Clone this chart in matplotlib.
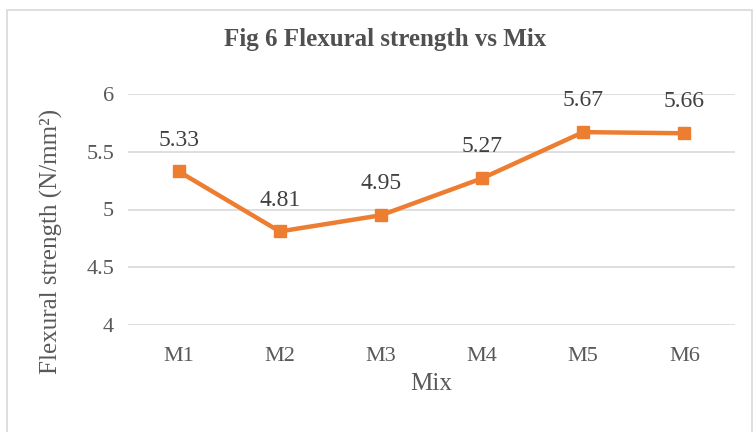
import matplotlib.pyplot as plt
from matplotlib.patches import Rectangle

mixes = ["M1", "M2", "M3", "M4", "M5", "M6"]
strength = [5.33, 4.81, 4.95, 5.27, 5.67, 5.66]
y_ticks = [4, 4.5, 5, 5.5, 6]
y_tick_labels = ["4", "4.5", "5", "5.5", "6"]

plt.rcParams['font.family'] = ['Liberation Serif', 'DejaVu Serif']
text_color = '#595959'
orange = '#ED7D31'

fig = plt.figure(figsize=(7.56, 4.32), dpi=100)

# outer chart frame
fig.patches.append(Rectangle((7 / 756, -0.05), 745 / 756, 1.05 - 10 / 432,
                             transform=fig.transFigure, fill=False,
                             edgecolor='#d9d9d9', linewidth=1.2))

ax = fig.add_axes([128 / 756, 1 - 325 / 432, (735 - 128) / 756, (325 - 94) / 432])

x = list(range(len(mixes)))
ax.plot(x, strength, color=orange, linewidth=3.2, marker='s', markersize=8.5)

for i, v in enumerate(strength):
    ax.annotate(f"{v:.2f}", (i, v), xytext=(0, 15), textcoords='offset points',
                ha='center', va='bottom', fontsize=17, color='#404040')

ax.set_xlim(-0.5, len(mixes) - 0.5)
ax.set_ylim(4, 6)
ax.set_xticks(x)
ax.set_xticklabels(mixes)
ax.set_yticks(y_ticks)
ax.set_yticklabels(y_tick_labels)
ax.tick_params(axis='both', length=0, labelsize=16, labelcolor=text_color)
ax.tick_params(axis='y', pad=10)
ax.tick_params(axis='x', pad=16)
ax.grid(axis='y', color='#d9d9d9', linewidth=1.2)
ax.set_axisbelow(True)
for s in ax.spines.values():
    s.set_visible(False)

ax.set_xlabel("Mix", fontsize=18, color=text_color, labelpad=5)

# y label sits lower than the axes centre in the original
fig.text(51 / 756, 1 - 241 / 432, "Flexural strength (N/mm²)", rotation=90,
         ha='center', va='center', fontsize=18, color=text_color)

fig.text(385 / 756, 1 - 46 / 432, "Fig 6 Flexural strength vs Mix", ha='center', va='baseline',
         fontsize=18, fontweight='bold', color='#505050')

plt.savefig("out.png", dpi=100)
